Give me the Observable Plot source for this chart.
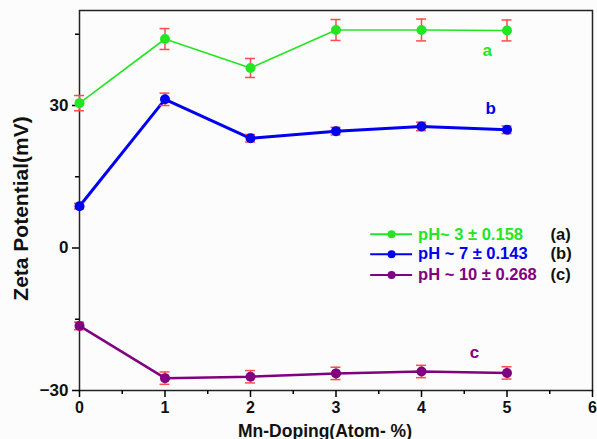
<!DOCTYPE html>
<html><head><meta charset="utf-8">
<script src="https://cdn.jsdelivr.net/npm/d3@7"></script>
<script src="https://cdn.jsdelivr.net/npm/@observablehq/plot@0.6"></script>
<style>
body{margin:0;background:#fcfcfc;}
#c{position:relative;width:597px;height:439px;}
svg{font-family:"Liberation Sans",Arial,sans-serif;}
</style></head><body><div id="c"></div>
<script>
const doping = [0, 1, 2, 3, 4, 5];
const zetaA = [30.5, 44.0, 37.9, 45.9, 45.9, 45.8];
const errA  = [1.6, 2.2, 2.0, 2.2, 2.3, 2.2];
const zetaB = [8.8, 31.3, 23.1, 24.6, 25.6, 24.9];
const errB  = [0.6, 1.3, 0.8, 0.8, 0.9, 0.8];
const zetaC = [-16.4, -27.4, -27.1, -26.4, -26.0, -26.3];
const errC  = [0.8, 1.3, 1.3, 1.3, 1.3, 1.3];
const seriesNames = ["a", "b", "c"];
const seriesColors = ["#22e622", "#0000ee", "#800080"];
const legendText = ["pH~ 3 \u00b1 0.158", "pH ~ 7 \u00b1 0.143", "pH ~ 10 \u00b1 0.268"];
const legendTag = ["(a)", "(b)", "(c)"];
const legendY = [2.9, -1.3, -5.7];
const tagPos = [[4.77, 41.6], [4.81, 29.3], [4.62, -22.1]];
const xTicks = [0, 1, 2, 3, 4, 5, 6];
const xMinor = [0.5, 1.5, 2.5, 3.5, 4.5, 5.5];
const yTicks = [-30, 0, 30];
const yMinor = [-15, 15, 45];

const allVals = [zetaA, zetaB, zetaC];
const allErr = [errA, errB, errC];
const rows = [];
seriesNames.forEach((s, i) => doping.forEach((x, j) => rows.push({s, x, y: allVals[i][j], e: allErr[i][j]})));
const widths = {a: 1.6, b: 3, c: 2.5};
const legRows = seriesNames.map((s, i) => ({s, y: legendY[i], t: legendText[i], tag: legendTag[i]}));
const tagRows = seriesNames.map((s, i) => ({s, x: tagPos[i][0], y: tagPos[i][1]}));
const col = d3.scaleOrdinal(seriesNames, seriesColors);
const errColor = "#ff4b4b";
const capHalf = 0.058;

const marks = [
  Plot.frame({stroke: "#222", strokeWidth: 1.5}),
  Plot.axisX({ticks: xTicks, tickFormat: "d", tickSize: 7, fontSize: 16, fontWeight: "bold", fill: "#111", tickPadding: 4, label: null, strokeWidth: 1.5}),
  Plot.axisX({ticks: xMinor, tickSize: 4, text: null, label: null, strokeWidth: 1.5}),
  Plot.axisY({ticks: yTicks, tickFormat: "d", tickSize: 7, fontSize: 17, fontWeight: "bold", fill: "#111", tickPadding: 4, label: null, strokeWidth: 1.5}),
  Plot.axisY({ticks: yMinor, tickSize: 4, text: null, label: null, strokeWidth: 1.5}),
];
seriesNames.forEach((s, i) => {
  const d = rows.filter(r => r.s === s);
  marks.push(Plot.line(d, {x: "x", y: "y", stroke: seriesColors[i], strokeWidth: widths[s]}));
  marks.push(Plot.ruleX(d, {x: "x", y1: r => r.y - r.e, y2: r => r.y + r.e, stroke: errColor, strokeWidth: 1.5}));
  marks.push(Plot.ruleY(d, {y: r => r.y - r.e, x1: r => r.x - capHalf, x2: r => r.x + capHalf, stroke: errColor, strokeWidth: 1.5}));
  marks.push(Plot.ruleY(d, {y: r => r.y + r.e, x1: r => r.x - capHalf, x2: r => r.x + capHalf, stroke: errColor, strokeWidth: 1.5}));
  marks.push(Plot.dot(d, {x: "x", y: "y", fill: seriesColors[i], r: 5}));
});
// legend
const legLineStart = 3.40, legLineEnd = 3.89, legDot = 3.65, legTextX = 3.96, legTagX = 5.51;
marks.push(Plot.link(legRows, {x1: () => legLineStart, x2: () => legLineEnd, y1: "y", y2: "y", stroke: d => col(d.s), strokeWidth: 2}));
marks.push(Plot.dot(legRows, {x: () => legDot, y: "y", fill: d => col(d.s), r: 4}));
marks.push(Plot.text(legRows, {x: () => legTextX, y: "y", text: "t", fill: d => col(d.s), textAnchor: "start", fontSize: 16.5, fontWeight: "bold", letterSpacing: "1px"}));
marks.push(Plot.text(legRows, {x: () => legTagX, y: "y", text: "tag", fill: "#111", textAnchor: "start", fontSize: 16.5, fontWeight: "bold"}));
marks.push(Plot.text(tagRows, {x: "x", y: "y", text: "s", fill: d => col(d.s), fontSize: 17, fontWeight: "bold"}));
// axis titles
marks.push(Plot.text(["Mn-Doping(Atom- %)"], {frameAnchor: "bottom", textAnchor: "middle", lineAnchor: "bottom", dy: 46, dx: -11, fontSize: 17.5, fontWeight: "bold", fill: "#111"}));
marks.push(Plot.text(["Zeta Potential(mV)"], {frameAnchor: "left", textAnchor: "middle", dx: -58, dy: 8, rotate: -90, fontSize: 21, fontWeight: "bold", fill: "#111"}));

const chart = Plot.plot({
  width: 597, height: 439,
  marginLeft: 79, marginRight: 5, marginTop: 10, marginBottom: 49,
  style: {background: "#fcfcfc", fontFamily: "Liberation Sans, Arial, sans-serif", overflow: "visible"},
  x: {domain: [0, 6], axis: null},
  y: {domain: [-30, 50], axis: null},
  marks
});
document.getElementById("c").appendChild(chart);
</script></body></html>
